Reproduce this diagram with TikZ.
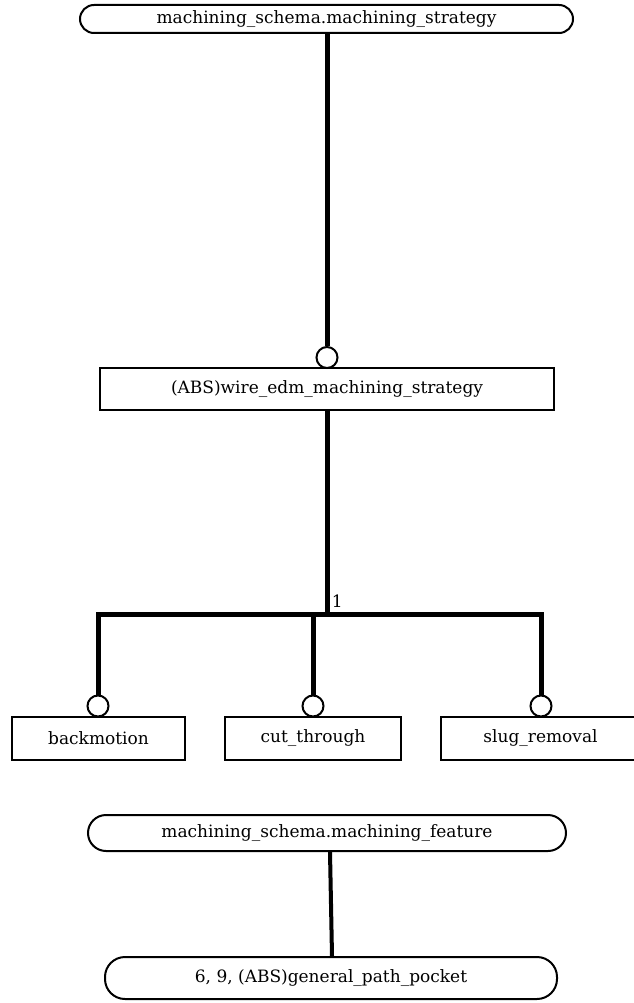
\documentclass[tikz,border=0pt]{standalone}
\usepackage{fontspec}
\setmainfont{DejaVu Serif}
\usetikzlibrary{positioning}

\begin{document}
\begin{tikzpicture}[x=1pt,y=-1pt,
    entity/.style={draw, line width=2pt, minimum height=43pt, inner sep=0pt, font=\fontsize{17}{20}\selectfont},
    schema/.style={draw, line width=2pt, inner sep=0pt, font=\fontsize{17}{20}\selectfont},
    ring/.style={draw, circle, line width=2pt, minimum size=21pt, inner sep=0pt, fill=white},
    link/.style={line width=5pt}]
    \useasboundingbox (0,0) rectangle (633,1003);

    % Strategy side
    \node[schema, rounded corners=14pt, minimum width=493pt, minimum height=28pt] (strategy) at (326.5,19) {machining\_schema.machining\_strategy};
    \node[ring] (r0) at (327,357.5) {};
    \node[entity, minimum width=454pt, minimum height=42pt] (wire) at (327,389) {(ABS)wire\_edm\_machining\_strategy};
    \draw[link] (strategy.south -| r0) -- (r0.north);

    % Subtypes, one of
    \node[ring] (r1) at (98,706) {};
    \node[ring] (r2) at (313,706) {};
    \node[ring] (r3) at (541,706) {};
    \node[entity, minimum width=173pt] (back) at (98.5,738.5) {backmotion};
    \node[entity, minimum width=176pt] (cut) at (313,738.5) {cut\_through};
    \node[entity, minimum width=199pt] (slug) at (540.5,738.5) {slug\_removal};
    \coordinate (split) at (327,614);
    \draw[link] (wire.south) -- (split) node[above right, xshift=-1pt, yshift=1pt, font=\fontsize{17}{20}\selectfont] {1};
    \draw[link] (r1.north) -- (r1.north |- split) -- (r3.north |- split) -- (r3.north);
    \draw[link] (r2.north) -- (r2.north |- split);

    % Feature side
    \node[schema, rounded corners=18pt, minimum width=478pt, minimum height=36pt] (feature) at (327,833) {machining\_schema.machining\_feature};
    \node[schema, rounded corners=20pt, minimum width=452pt, minimum height=42pt] (pocket) at (331,978) {6, 9, (ABS)general\_path\_pocket};
    \draw[link, line width=4pt] ([xshift=3pt]feature.south) -- ([xshift=1pt]pocket.north);
\end{tikzpicture}
\end{document}
